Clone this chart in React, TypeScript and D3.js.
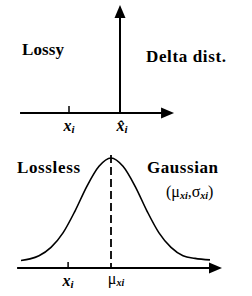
import React from 'react'
import * as d3 from 'd3'

// top panel: lossy -> delta at x_hat
const topAxisExtent = [-1.96, 1.06]
const topTicks = [-1]
const deltaAt = 0
const deltaHeight = 1.06

// bottom panel: lossless -> gaussian
const botAxisExtent = [-3.13, 3.7]
const botTicks = [-1.43]
const curveX = [-3.0, -2.7, -2.4, -2.0, -1.6, -1.2, -0.8, -0.4, 0, 0.4, 0.8, 1.2, 1.6, 2.0, 2.4, 2.8, 3.3]
const curveY = [0.015, 0.03, 0.06, 0.14, 0.28, 0.49, 0.73, 0.92, 1.0, 0.92, 0.73, 0.49, 0.28, 0.14, 0.06, 0.035, 0.02]
const meanAt = 0

const serif = { fontFamily: 'Liberation Serif, DejaVu Serif, serif' }

const arrowRight = (x: number, y: number) =>
  `M${x},${y} L${x - 13},${y - 5.5} L${x - 13},${y + 5.5} Z`
const arrowUp = (x: number, y: number) =>
  `M${x},${y} L${x - 5.5},${y + 13} L${x + 5.5},${y + 13} Z`

export default function App() {
  const xTop = d3.scaleLinear().domain([-1, 0]).range([69, 120])
  const yTop = d3.scaleLinear().domain([0, 1]).range([113, 11])

  const xBot = d3.scaleLinear().domain([0, 1]).range([111, 141])
  const yBot = d3.scaleLinear().domain([0, 1]).range([262, 158])
  const axisY = 268

  const pts = curveX.map((x, i) => [x, curveY[i]] as [number, number])
  const line = d3.line<[number, number]>()
    .x(d => xBot(d[0]))
    .y(d => yBot(d[1]))
    .curve(d3.curveMonotoneX)

  const t0 = xTop(topAxisExtent[0]), t1 = xTop(topAxisExtent[1])
  const b0 = xBot(botAxisExtent[0]), b1 = xBot(botAxisExtent[1])
  const dx = xTop(deltaAt), dTop = yTop(deltaHeight)

  return (
    <svg width={252} height={296} style={{ position: 'absolute', left: 0, top: 0 }}>
      <rect width={252} height={296} fill="#fff" />
      {/* top panel */}
      <line x1={t0} x2={t1 - 10} y1={113} y2={113} stroke="#000" strokeWidth={2} />
      <path d={arrowRight(t1, 113)} fill="#000" />
      {topTicks.map(t => (
        <line key={t} x1={xTop(t)} x2={xTop(t)} y1={106} y2={113} stroke="#000" strokeWidth={1.5} />
      ))}
      <line x1={dx} x2={dx} y1={113} y2={dTop + 10} stroke="#000" strokeWidth={2} />
      <path d={arrowUp(dx, dTop)} fill="#000" />
      <text x={22} y={55} style={serif} fontWeight="bold" fontSize={17} textLength={42}>Lossy</text>
      <text x={146} y={62} style={serif} fontWeight="bold" fontSize={17} textLength={80}>Delta dist.</text>
      <text x={xTop(-1)} y={131} textAnchor="middle" style={serif} fontWeight="bold" fontStyle="italic" fontSize={16}>
        x<tspan fontSize={11} dy={2}>i</tspan>
      </text>
      <text x={xTop(0) + 2} y={131} textAnchor="middle" style={serif} fontWeight="bold" fontStyle="italic" fontSize={16}>
        {'x\u0302'}<tspan fontSize={11} dy={2}>i</tspan>
      </text>

      {/* bottom panel */}
      <path d={line(pts) ?? ''} fill="none" stroke="#000" strokeWidth={1.6} />
      <line x1={xBot(meanAt)} x2={xBot(meanAt)} y1={155} y2={axisY} stroke="#000" strokeWidth={1.8} strokeDasharray="8,4" />
      <line x1={b0} x2={b1 - 10} y1={axisY} y2={axisY} stroke="#000" strokeWidth={2} />
      <path d={arrowRight(b1, axisY)} fill="#000" />
      {botTicks.map(t => (
        <line key={t} x1={xBot(t)} x2={xBot(t)} y1={262} y2={axisY} stroke="#000" strokeWidth={1.5} />
      ))}
      <text x={17} y={173} style={serif} fontWeight="bold" fontSize={17} textLength={63}>Lossless</text>
      <text x={147} y={173} style={serif} fontWeight="bold" fontSize={17} textLength={71}>Gaussian</text>
      <text x={166} y={197} style={serif} fontSize={16}>
        (μ<tspan fontSize={10} fontWeight="bold" fontStyle="italic" dy={2}>xi</tspan>
        <tspan dy={-2}>,σ</tspan>
        <tspan fontSize={10} fontWeight="bold" fontStyle="italic" dy={2}>xi</tspan>
        <tspan dy={-2}>)</tspan>
      </text>
      <text x={xBot(botTicks[0])} y={286} textAnchor="middle" style={serif} fontWeight="bold" fontStyle="italic" fontSize={16}>
        x<tspan fontSize={11} dy={2}>i</tspan>
      </text>
      <text x={xBot(meanAt) + 5} y={284} textAnchor="middle" style={serif} fontSize={16}>
        μ<tspan fontSize={10} fontWeight="bold" fontStyle="italic" dy={2}>xi</tspan>
      </text>
    </svg>
  )
}
